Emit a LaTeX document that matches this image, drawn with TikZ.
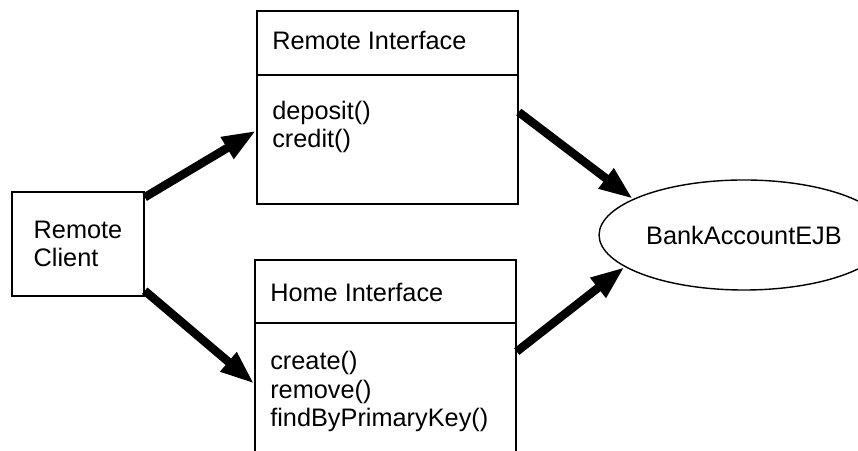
\documentclass[tikz,border=0pt]{standalone}
\usepackage{fontspec}
\setmainfont{Liberation Sans}
\usetikzlibrary{arrows.meta}
\usetikzlibrary{shapes.geometric}
\tikzset{box/.style = {draw, line width=1pt, inner sep=0}}
\tikzset{txt/.style = {inner sep=0, anchor=base west, align=left}}
\tikzset{flow/.style = {line width=6pt, -{Triangle[length=0.85cm, width=0.58cm]}}}

\begin{document}
\begin{tikzpicture}[x=0.025cm, y=-0.025cm, font=\fontsize{18}{20.5}\selectfont]
      \useasboundingbox (0, 0) rectangle (858, 451);
      \clip (0, 0) rectangle (858, 451);

      \node [box, align=left, minimum width=3.3cm, minimum height=2.6cm] (client) at (78, 244) {Remote\\Client};

      \node [box, minimum width=6.525cm, minimum height=4.825cm] (remote) at (387.5, 107.5) {};
      \draw [line width=1pt] (remote.west |- 0, 75) -- (remote.east |- 0, 75);
      \node [txt] (remotetitle) at (272, 50) {Remote Interface};
      \node [txt] (remoteops) at (272, 148) {deposit()\\credit()};

      \node [box, minimum width=6.525cm, minimum height=5.5cm] (home) at (385.5, 370) {};
      \draw [line width=1pt] (home.west |- 0, 323) -- (home.east |- 0, 323);
      \node [txt] (hometitle) at (270, 302) {Home Interface};
      \node [txt] (homeops) at (270, 427) {create()\\remove()\\findByPrimaryKey()};

      \node [draw, ellipse, line width=1pt, minimum width=5.75cm, minimum height=2.75cm] (bank) at (744, 235) {BankAccountEJB};

      \draw [flow] (client.35) -- (remote.190);
      \draw [flow] (client.-35) -- (home.186);
      \draw [flow] (remote.-2.4) -- (bank.162);
      \draw [flow] (home.8) -- (bank.195);
    \end{tikzpicture}
\end{document}
